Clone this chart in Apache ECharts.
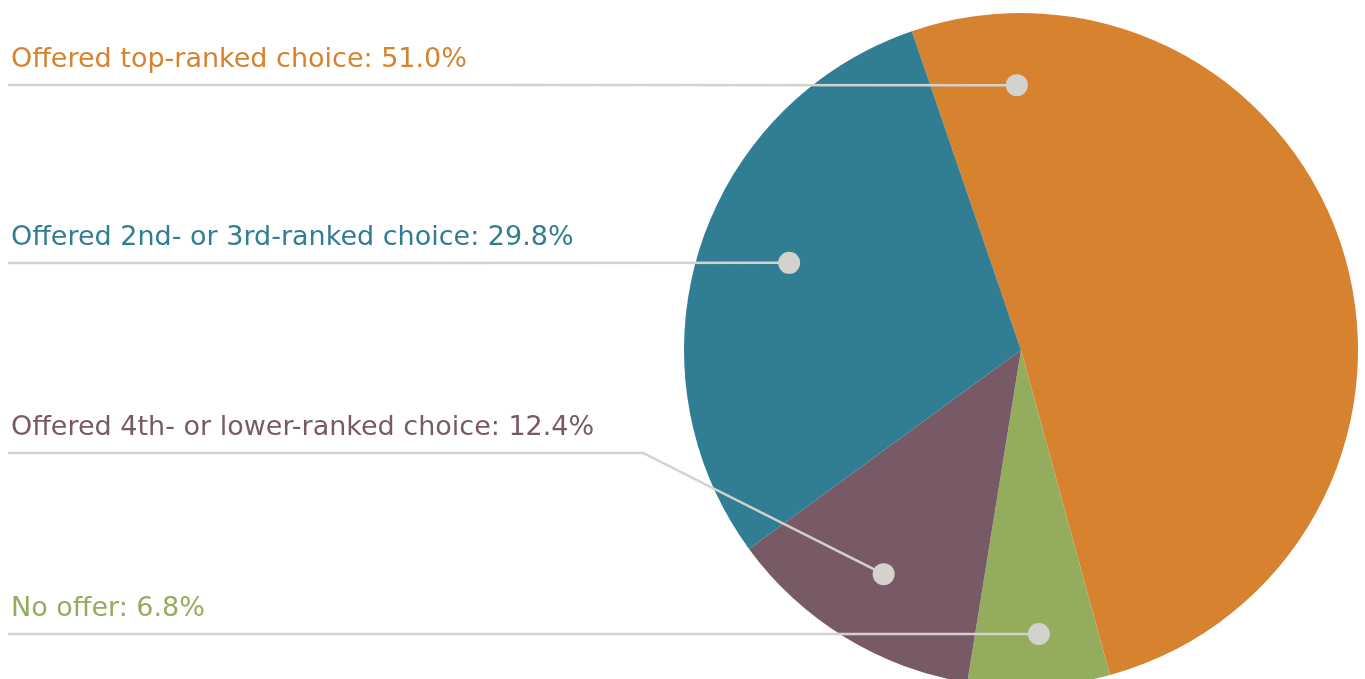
<!DOCTYPE html>
<html>
<head>
<meta charset="utf-8">
<script src="https://cdn.jsdelivr.net/npm/echarts@6/dist/echarts.min.js"></script>
<style>
  html, body {margin: 0; padding: 0; background: #fff;}
  #chart {width: 1365px; height: 679px;}
</style>
</head>
<body>
<div id="chart"></div>
<script>
// slices in drawing order (clockwise from the top-left edge of the orange slice)
const categories = ['Offered top-ranked choice', 'No offer', 'Offered 4th- or lower-ranked choice', 'Offered 2nd- or 3rd-ranked choice']
const values = [51.0, 6.8, 12.4, 29.8]
const colors = ['#d6822f', '#93ad5d', '#785a66', '#317d94']

// where each leader line starts inside its slice: [radius fraction, degrees clockwise from top]
const anchors = [[0.786, 359.1], [0.8445, 176.4], [0.78, 211.5], [0.735, 290.6]]
// y of the horizontal rule under each label, and an optional bend x
const ruleY = [85, 634, 453, 263]
const bendX = [null, null, 643, null]

const CX = 1021, CY = 350, R = 337
const LINE_COLOR = '#d3d2cc'

const anchorPx = i => {
  const [f, deg] = anchors[i]
  const a = deg * Math.PI / 180
  return [CX + Math.sin(a) * f * R, CY - Math.cos(a) * f * R]
}

const pieBase = {
  type: 'pie',
  center: [CX, CY],
  radius: [0, R],
  startAngle: 108.9,
  clockwise: true,
  avoidLabelOverlap: false,
  emphasis: {disabled: true},
  silent: true,
}

const chart = echarts.init(document.getElementById('chart'))

chart.setOption({
  animation: false,
  polar: {center: [CX, CY], radius: R},
  angleAxis: {type: 'value', min: 0, max: 360, startAngle: 90, clockwise: true, show: false},
  radiusAxis: {type: 'value', min: 0, max: 1, show: false},
  series: [
    // the slices
    {
      ...pieBase,
      data: categories.map((name, i) => ({name, value: values[i], itemStyle: {color: colors[i]}})),
      label: {show: false},
      labelLine: {show: false},
      z: 2,
    },
    // same pie, invisible, only to carry the labels and leader lines above the slices
    {
      ...pieBase,
      data: categories.map((name, i) => ({
        name,
        value: values[i],
        itemStyle: {color: 'rgba(0,0,0,0)'},
        label: {color: colors[i]},
      })),
      label: {
        show: true,
        position: 'outside',
        formatter: p => `${p.name}: ${p.value.toFixed(1)}%`,
        fontFamily: 'DejaVu Sans',
        fontSize: 27,
      },
      labelLine: {
        show: true,
        lineStyle: {color: LINE_COLOR, width: 2.5},
      },
      labelLayout: params => {
        const i = params.dataIndex
        const start = anchorPx(i)
        const y = ruleY[i]
        const mid = bendX[i] != null ? [bendX[i], y] : [(start[0] + 8) / 2, y]
        return {
          x: 11,
          y: y - 25,
          align: 'left',
          verticalAlign: 'middle',
          labelLinePoints: [start, mid, [8, y]],
        }
      },
      z: 5,
    },
    {
      type: 'scatter',
      coordinateSystem: 'polar',
      symbolSize: 22,
      itemStyle: {color: LINE_COLOR, opacity: 1},
      data: anchors.map(([f, deg]) => [f, deg]),
      silent: true,
      z: 10,
    },
  ],
})
</script>
</body>
</html>
